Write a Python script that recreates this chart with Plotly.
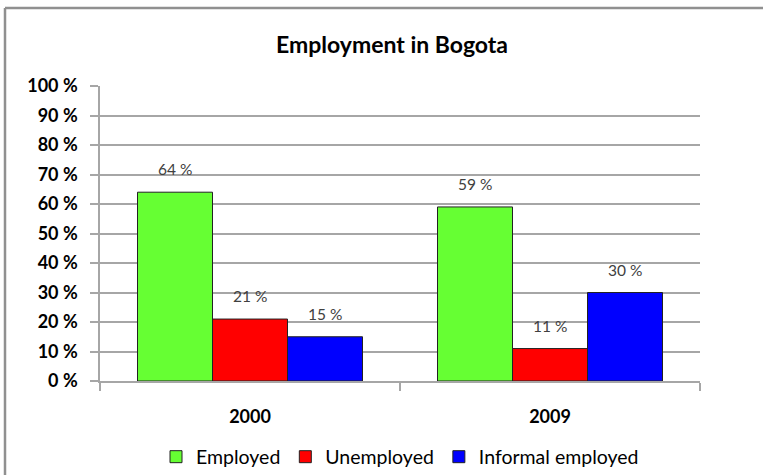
import plotly.graph_objects as go

# Employment shares in Bogota by year
years = ["2000", "2009"]
employed = [64, 59]
unemployed = [21, 11]
informal = [15, 30]

series_names = ["Employed", "Unemployed", "Informal employed"]
series_values = [employed, unemployed, informal]
series_colors = ["#66ff33", "#ff0000", "#0000ff"]

font_family = "Lato, Open Sans, sans-serif"
grid_color = "#a6a6a6"

fig = go.Figure()
for name, vals, color in zip(series_names, series_values, series_colors):
    fig.add_trace(go.Bar(
        name=name, x=years, y=vals,
        marker=dict(color=color, line=dict(color="#222222", width=1)),
    ))

# value labels floating above each bar
bargap = 0.25
n = len(series_names)
bar_w = (1 - bargap) / n
annotations = []
for i, vals in enumerate(series_values):
    offset = -(1 - bargap) / 2 + bar_w * (i + 0.5)
    for j, v in enumerate(vals):
        annotations.append(dict(
            x=j + offset, y=v, xref="x", yref="y",
            text=f"{v} %", showarrow=False, yshift=23,
            font=dict(family=font_family, size=15.5, color="#404040"),
        ))

fig.update_layout(
    width=763, height=475,
    margin=dict(l=100, r=63, t=86, b=94, autoexpand=False),
    paper_bgcolor="white", plot_bgcolor="white",
    barmode="group", bargap=bargap, bargroupgap=0,
    title=dict(
        text="Employment in Bogota",
        x=392 / 763, xref="container", xanchor="center",
        y=1 - 45 / 475, yref="container", yanchor="middle",
        font=dict(family=font_family, size=23, color="black", weight="bold"),
    ),
    showlegend=True,
    legend=dict(
        orientation="h", x=0.5, xanchor="center",
        y=1 - 457 / 475, yref="container", yanchor="middle",
        font=dict(family=font_family, size=19.5, color="black"),
        itemwidth=30, tracegroupgap=0,
    ),
    annotations=annotations,
    shapes=[
        dict(type="line", xref="paper", yref="paper",
             x0=(5 - 100) / 600, x1=(5 - 100) / 600,
             y0=(381 - 480) / 295, y1=(381 - 8) / 295,
             line=dict(color="#909090", width=2.5)),
        dict(type="line", xref="paper", yref="paper",
             x0=(5 - 100) / 600, x1=(770 - 100) / 600,
             y0=(381 - 8) / 295, y1=(381 - 8) / 295,
             line=dict(color="#909090", width=2.5)),
    ],
)

fig.update_yaxes(
    range=[0, 100], dtick=10, ticksuffix=" %",
    showgrid=True, gridcolor=grid_color, gridwidth=1.5,
    showline=True, linecolor=grid_color, linewidth=1.5,
    ticks="outside", ticklen=8, tickcolor=grid_color, tickwidth=1.5,
    ticklabelstandoff=9, zeroline=False, automargin=False,
    tickfont=dict(family=font_family, size=18, color="black", weight="bold"),
)
fig.update_xaxes(
    showline=True, linecolor=grid_color, linewidth=1.5,
    ticks="outside", tickson="boundaries", ticklen=8,
    tickcolor=grid_color, tickwidth=1.5, ticklabelstandoff=19,
    automargin=False,
    tickfont=dict(family=font_family, size=18, color="black", weight="bold"),
)

fig.write_html("out.html")
